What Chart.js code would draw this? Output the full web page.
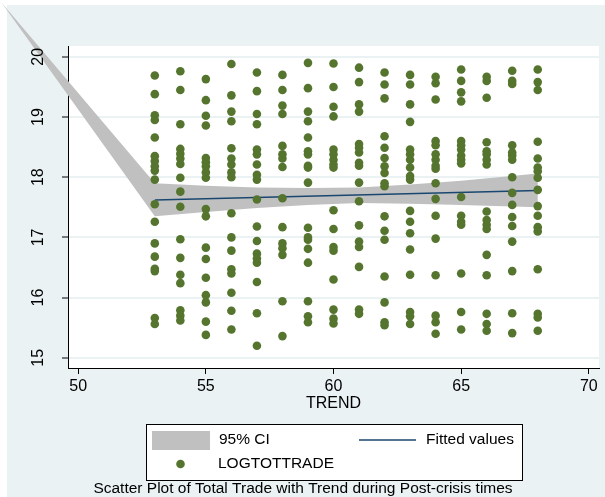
<!DOCTYPE html>
<html>
<head>
<meta charset="utf-8">
<script src="https://cdn.jsdelivr.net/npm/chart.js@4.4.1/dist/chart.umd.min.js"></script>
<style>
  html, body { margin: 0; padding: 0; background: #ffffff; }
  #wrap { width: 605px; height: 497px; position: relative; }
</style>
</head>
<body>
<div id="wrap"><canvas id="c" width="605" height="497"></canvas></div>
<script>
// Trend values (x) and log total trade observations for each trend value
const trendValues = [53, 54, 55, 56, 57, 58, 59, 60, 61, 62, 63, 64, 65, 66, 67, 68];
const trade53 = [19.69, 19.38, 19.03, 18.95, 18.66, 18.35, 18.27, 18.18, 18.11, 17.96, 17.55, 17.26, 16.90, 16.68, 16.48, 16.44, 15.66, 15.56];
const trade54 = [19.76, 19.45, 18.88, 18.47, 18.39, 18.31, 18.22, 17.99, 17.76, 17.51, 16.97, 16.66, 16.38, 16.24, 15.79, 15.70, 15.62];
const trade55 = [19.63, 19.28, 19.02, 18.86, 18.32, 18.25, 18.18, 18.08, 17.99, 17.47, 17.35, 16.83, 16.64, 16.33, 16.04, 15.92, 15.60, 15.38];
const trade56 = [19.88, 19.36, 19.09, 18.93, 18.48, 18.31, 18.21, 18.08, 18.00, 17.40, 17.00, 16.78, 16.47, 16.40, 16.08, 15.78, 15.47];
const trade57 = [19.74, 19.43, 19.05, 18.88, 18.46, 18.38, 18.21, 18.04, 17.96, 17.63, 17.18, 16.94, 16.73, 16.65, 16.58, 16.26, 15.74, 15.20];
const trade58 = [19.70, 19.45, 19.19, 19.05, 18.52, 18.38, 18.31, 18.17, 17.65, 17.17, 16.90, 16.82, 16.71, 15.94, 15.36];
const trade59 = [19.90, 19.48, 19.09, 18.93, 18.66, 18.43, 18.38, 18.19, 18.16, 17.91, 17.16, 17.00, 16.96, 16.81, 16.58, 15.94, 15.69, 15.59];
const trade60 = [19.89, 19.50, 19.17, 19.01, 18.46, 18.38, 18.29, 18.21, 18.16, 17.45, 17.14, 16.84, 16.78, 16.30, 15.80, 15.65, 15.57];
const trade61 = [19.82, 19.58, 19.21, 19.09, 18.55, 18.49, 18.41, 18.24, 18.19, 17.91, 17.60, 17.20, 16.93, 16.84, 16.51, 15.80, 15.73];
const trade62 = [19.74, 19.54, 19.31, 18.68, 18.49, 18.32, 18.18, 18.07, 17.90, 17.85, 17.35, 17.11, 16.96, 16.35, 15.92, 15.59, 15.54];
const trade63 = [19.70, 19.54, 19.21, 18.92, 18.46, 18.38, 18.29, 18.16, 18.02, 17.96, 17.44, 17.26, 17.07, 16.80, 16.38, 15.76, 15.69, 15.56];
const trade64 = [19.67, 19.56, 19.29, 18.60, 18.53, 18.38, 18.29, 18.19, 18.14, 17.90, 17.64, 17.36, 16.98, 16.37, 15.70, 15.59, 15.40];
const trade65 = [19.79, 19.60, 19.41, 19.26, 18.60, 18.53, 18.46, 18.36, 18.29, 18.23, 17.67, 17.36, 17.26, 17.21, 16.40, 15.76, 15.47];
const trade66 = [19.67, 19.60, 19.32, 18.58, 18.43, 18.38, 18.29, 18.21, 17.43, 17.29, 17.21, 17.14, 16.71, 16.37, 15.73, 15.56, 15.45];
const trade67 = [19.77, 19.60, 19.55, 18.53, 18.41, 18.36, 18.29, 18.00, 17.74, 17.54, 17.34, 17.19, 16.93, 16.44, 15.74, 15.41];
const trade68 = [19.79, 19.58, 19.45, 18.59, 18.31, 18.16, 18.10, 17.99, 17.79, 17.52, 17.36, 17.17, 17.10, 16.47, 15.73, 15.67, 15.45];
const tradeColumns = [trade53, trade54, trade55, trade56, trade57, trade58, trade59, trade60,
                      trade61, trade62, trade63, trade64, trade65, trade66, trade67, trade68];

// Linear fit and its 95% confidence band
const fitX = [53, 68];
const fitY = [17.62, 17.78];
const ciX = [47.0, 53, 55, 57, 59, 61, 63, 65, 68];
const ciUpper = [20.9, 17.90, 17.86, 17.83, 17.82, 17.83, 17.88, 17.94, 18.06];
const ciLower = [20.9, 17.35, 17.42, 17.49, 17.54, 17.57, 17.56, 17.54, 17.50];

// Axis ticks
const xTicks = [50, 55, 60, 65, 70];
const yTicks = [15, 16, 17, 18, 19, 20];

const FONT = "'Liberation Sans', Arial, Helvetica, sans-serif";
const OUTER_BG = '#EAF2F3';
const GRID = '#EAF2F3';
const DOT = '#55752F';
const FIT = '#1A476F';
const BAND = '#C0C0C0';

const scatterPoints = [];
trendValues.forEach((t, i) => tradeColumns[i].forEach(v => scatterPoints.push({x: t, y: v})));
const pts = (xs, ys) => xs.map((x, i) => ({x, y: ys[i]}));

// Backgrounds: white page edge, light outer region, white plot region
const backgroundPlugin = {
  id: 'backgrounds',
  beforeDraw(chart) {
    const {ctx, chartArea: a, width, height} = chart;
    ctx.save();
    ctx.fillStyle = '#ffffff';
    ctx.fillRect(0, 0, width, height);
    ctx.fillStyle = OUTER_BG;
    ctx.fillRect(7, 5, width - 7, height - 5);
    ctx.fillStyle = '#ffffff';
    ctx.fillRect(a.left, a.top, a.right - a.left, a.bottom - a.top);
    ctx.restore();
  }
};

// Confidence band polygon between the upper and lower bound datasets
const bandPlugin = {
  id: 'ciBand',
  beforeDatasetsDraw(chart) {
    const up = chart.getDatasetMeta(2).data;
    const lo = chart.getDatasetMeta(3).data;
    const ctx = chart.ctx;
    ctx.save();
    ctx.beginPath();
    up.forEach((p, i) => i === 0 ? ctx.moveTo(p.x, p.y) : ctx.lineTo(p.x, p.y));
    for (let i = lo.length - 1; i >= 0; i--) ctx.lineTo(lo[i].x, lo[i].y);
    ctx.closePath();
    ctx.fillStyle = BAND;
    ctx.fill();
    ctx.restore();
  }
};

// Boxed legend and caption below the axis
const legendCaptionPlugin = {
  id: 'legendCaption',
  afterDraw(chart) {
    const {ctx, chartArea: a} = chart;
    const cx = (a.left + a.right) / 2;
    const bx = Math.round(cx - 188) + 0.5, by = 424.5, bw = 376, bh = 56;
    ctx.save();
    ctx.fillStyle = '#ffffff';
    ctx.fillRect(bx, by, bw, bh);
    ctx.strokeStyle = '#000000';
    ctx.lineWidth = 1;
    ctx.strokeRect(bx, by, bw, bh);

    ctx.font = '15.5px ' + FONT;
    ctx.fillStyle = '#000000';
    ctx.textBaseline = 'middle';
    ctx.textAlign = 'left';

    const row1 = 440, row2 = 464;
    ctx.fillStyle = BAND;
    ctx.fillRect(bx + 5.5, 431, 58, 19);
    ctx.fillStyle = '#000000';
    ctx.fillText('95% CI', bx + 72.5, row1);

    ctx.strokeStyle = FIT;
    ctx.lineWidth = 1.5;
    ctx.beginPath();
    ctx.moveTo(bx + 212.5, row1);
    ctx.lineTo(bx + 269.5, row1);
    ctx.stroke();
    ctx.fillText('Fitted values', bx + 279.5, row1);

    ctx.fillStyle = DOT;
    ctx.beginPath();
    ctx.arc(bx + 34, row2, 4.3, 0, Math.PI * 2);
    ctx.fill();
    ctx.fillStyle = '#000000';
    ctx.fillText('LOGTOTTRADE', bx + 71.5, row2);

    ctx.textAlign = 'center';
    ctx.fillText('Scatter Plot of Total Trade with Trend during Post-crisis times', 303, 489);
    ctx.restore();
  }
};

new Chart(document.getElementById('c'), {
  data: {
    datasets: [
      {
        type: 'scatter', label: 'LOGTOTTRADE', data: scatterPoints,
        backgroundColor: DOT, borderWidth: 0, pointRadius: 4.3, order: 0
      },
      {
        type: 'line', label: 'Fitted values', data: pts(fitX, fitY),
        borderColor: FIT, borderWidth: 1.5, pointRadius: 0, fill: false, order: 1
      },
      {
        type: 'line', label: 'upper', data: pts(ciX, ciUpper),
        showLine: false, pointRadius: 0, clip: false, order: 2
      },
      {
        type: 'line', label: 'lower', data: pts(ciX, ciLower),
        showLine: false, pointRadius: 0, clip: false, order: 3
      }
    ]
  },
  options: {
    responsive: false,
    animation: false,
    events: [],
    layout: { padding: { top: 46, right: 6, left: 0, bottom: 83.4 } },
    plugins: { legend: { display: false }, title: { display: false }, tooltip: { enabled: false } },
    scales: {
      x: {
        type: 'linear', min: 49.6, max: 70.4,
        afterBuildTicks: s => { s.ticks = xTicks.map(v => ({value: v})); },
        afterFit: s => { s.height = 45.6; },
        grid: { drawOnChartArea: false, drawTicks: true, tickLength: 6, tickColor: '#000', tickWidth: 1 },
        border: { display: true, color: '#000', width: 1 },
        ticks: { color: '#000', font: { family: FONT, size: 16 }, padding: 3, maxRotation: 0, minRotation: 0 },
        title: { display: true, text: 'TREND', color: '#000', font: { family: FONT, size: 16 }, padding: 0 }
      },
      y: {
        type: 'linear', min: 14.83, max: 20.18,
        afterBuildTicks: s => { s.ticks = yTicks.map(v => ({value: v})); },
        afterFit: s => { s.width = 68; },
        grid: { color: GRID, lineWidth: 2, drawTicks: true, tickLength: 6, tickColor: '#000', tickWidth: 1 },
        border: { display: true, color: '#000', width: 1 },
        ticks: { color: '#000', font: { family: FONT, size: 16 }, padding: 15, minRotation: 90, maxRotation: 90, crossAlign: 'center', z: 1 }
      }
    }
  },
  plugins: [backgroundPlugin, bandPlugin, legendCaptionPlugin]
});
</script>
</body>
</html>
